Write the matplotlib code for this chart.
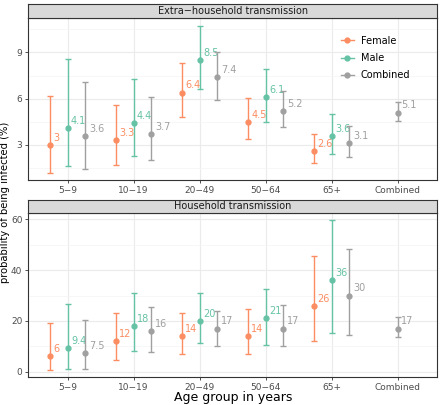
import matplotlib
matplotlib.use("Agg")
import matplotlib.pyplot as plt
from matplotlib.lines import Line2D
import numpy as np

# Age groups (x categories)
ages = ["5\u22129", "10\u221219", "20\u221249", "50\u221264", "65+", "Combined"]

# Extra-household transmission (%)
ex_f = [3, 3.3, 6.4, 4.5, 2.6]
ex_f_lo = [1.2, 1.7, 4.8, 3.4, 1.8]
ex_f_hi = [6.2, 5.6, 8.3, 6.05, 3.7]
ex_m = [4.1, 4.4, 8.5, 6.1, 3.6]
ex_m_lo = [1.6, 2.3, 6.6, 4.5, 2.4]
ex_m_hi = [8.55, 7.25, 10.75, 7.9, 5.0]
ex_c = [3.6, 3.7, 7.4, 5.2, 3.1, 5.1]
ex_c_lo = [1.45, 2.05, 5.9, 4.15, 2.2, 4.55]
ex_c_hi = [7.1, 6.1, 9.0, 6.5, 4.2, 5.8]

# Household transmission (%)
hh_f = [6, 12, 14, 14, 26]
hh_f_lo = [0.8, 4.5, 6.9, 6.9, 12.1]
hh_f_hi = [19, 23.2, 23.2, 24.6, 45.6]
hh_m = [9.4, 18, 20, 21, 36]
hh_m_lo = [1.1, 8.0, 11.1, 10.6, 15.3]
hh_m_hi = [26.6, 30.9, 31.1, 32.6, 59.6]
hh_c = [7.5, 16, 17, 17, 30, 17]
hh_c_lo = [1.2, 7.6, 10.1, 10.1, 14.5, 13.5]
hh_c_hi = [20.3, 25.6, 23.8, 26.2, 48.4, 21.5]

col_f = "#FC8D62"
col_m = "#66C2A5"
col_c = "#A0A0A0"
dodge = 0.27

fig = plt.figure(figsize=(4.4, 4.05), dpi=100)


def strip(bottom, height, text):
    sax = fig.add_axes([0.0636, bottom, 0.93, height])
    sax.set_facecolor("#D9D9D9")
    sax.set_xticks([])
    sax.set_yticks([])
    for s in sax.spines.values():
        s.set_color("#333333")
        s.set_linewidth(0.8)
    sax.text(0.5, 0.5, text, ha="center", va="center", fontsize=7, color="#1A1A1A",
             transform=sax.transAxes)


def draw(ax, x, vals, lo, hi, color):
    v = np.array(vals, dtype=float)
    yerr = [v - np.array(lo), np.array(hi) - v]
    ax.errorbar(x, v, yerr=yerr, fmt="o", color=color, ms=3.5, lw=1.0,
                capsize=2.5, capthick=1.0, zorder=3)
    for xi, vi in zip(x, v):
        ax.annotate(f"{vi:g}", (xi, vi), xytext=(2.5, 1.5), textcoords="offset points",
                    fontsize=7, color=color, ha="left", va="bottom")


def panel(bottom, height, f, flo, fhi, m, mlo, mhi, c, clo, chi, ylim, major, minor):
    ax = fig.add_axes([0.0636, bottom, 0.93, height])
    ax.set_facecolor("white")
    ax.set_xlim(-0.6, len(ages) - 0.4)
    ax.set_ylim(*ylim)
    ax.set_xticks(range(len(ages)))
    ax.set_xticklabels(ages)
    ax.set_yticks(major)
    ax.set_yticks(minor, minor=True)
    ax.grid(True, which="major", color="#EBEBEB", lw=0.8, zorder=0)
    ax.grid(True, which="minor", axis="y", color="#F4F4F4", lw=0.5, zorder=0)
    ax.set_axisbelow(True)
    ax.tick_params(axis="both", which="major", labelsize=6.5, labelcolor="#4D4D4D",
                   color="#333333", length=2.5, width=0.6, pad=1.5)
    ax.tick_params(which="minor", length=0)
    for s in ax.spines.values():
        s.set_color("#333333")
        s.set_linewidth(0.8)
    draw(ax, np.arange(len(f)) - dodge, f, flo, fhi, col_f)
    draw(ax, np.arange(len(m)), m, mlo, mhi, col_m)
    # combined: dodged for age groups, centred for the overall estimate
    cx = list(np.arange(len(c) - 1) + dodge) + [len(c) - 1]
    draw(ax, cx, c, clo, chi, col_c)
    return ax


top = panel(0.5556, 0.4, ex_f, ex_f_lo, ex_f_hi, ex_m, ex_m_lo, ex_m_hi,
            ex_c, ex_c_lo, ex_c_hi, (0.72, 11.24), [3, 6, 9], [1.5, 4.5, 7.5, 10.5])
strip(0.9556, 0.035, "Extra\u2212household transmission")

bot = panel(0.0691, 0.405, hh_f, hh_f_lo, hh_f_hi, hh_m, hh_m_lo, hh_m_hi,
            hh_c, hh_c_lo, hh_c_hi, (-2.1, 62.5), [0, 20, 40, 60], [10, 30, 50])
strip(0.4741, 0.033, "Household transmission")

handles = [Line2D([0], [0], color=col, marker="o", ms=3.5, lw=1.0)
           for col in (col_f, col_m, col_c)]
top.legend(handles, ["Female", "Male", "Combined"], loc="upper right",
           bbox_to_anchor=(0.955, 0.945), frameon=False, fontsize=7,
           handlelength=1.3, handletextpad=0.7, labelspacing=0.75)

fig.text(0.011, 0.5, "probability of being infected (%)", rotation=90,
         ha="center", va="center", fontsize=7.2, color="black")
fig.text(0.53, 0.018, "Age group in years", ha="center", va="center",
         fontsize=9, color="black")

fig.savefig("out.png", dpi=100)
